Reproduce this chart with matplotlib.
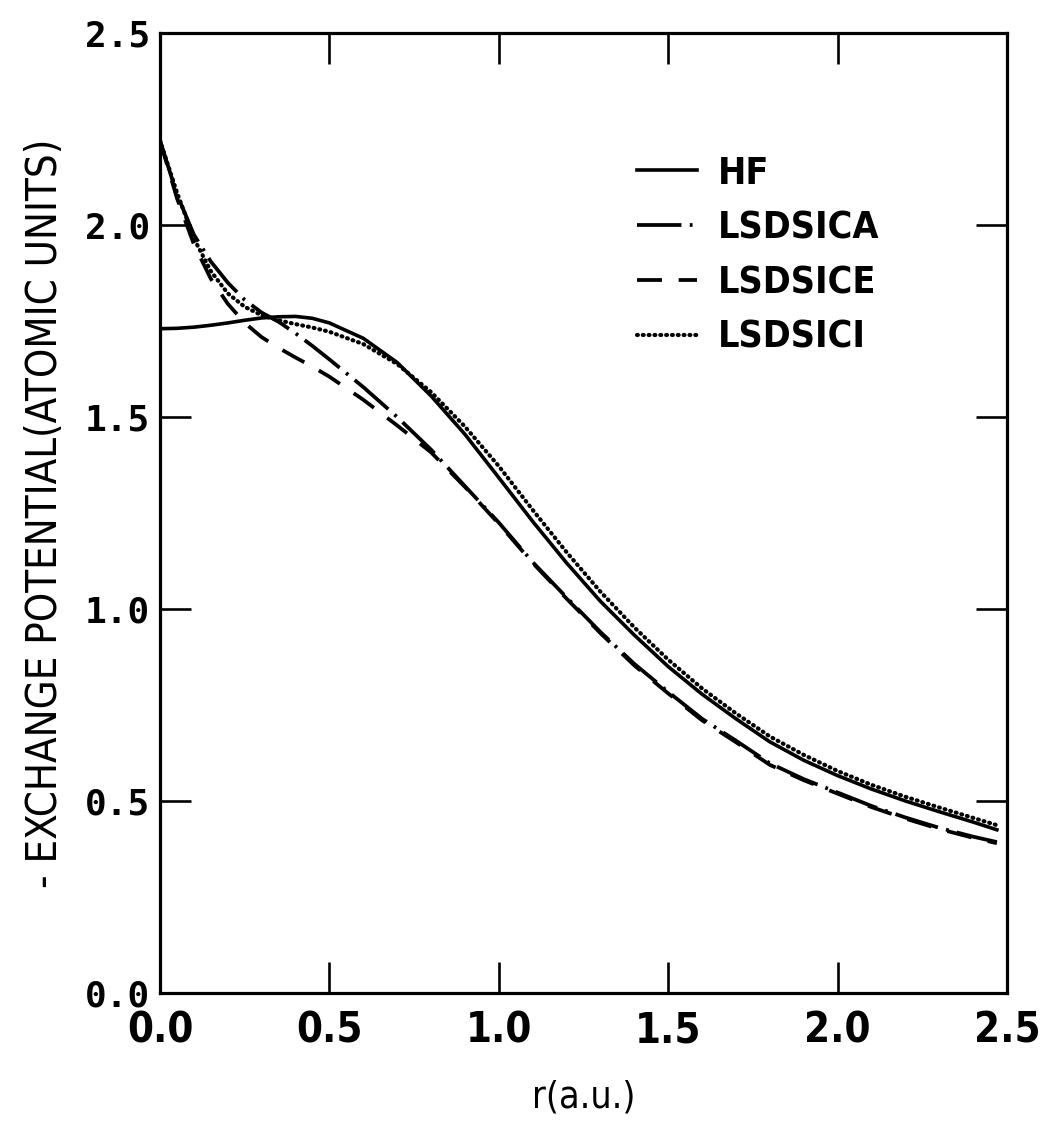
import matplotlib
matplotlib.use("Agg")
import matplotlib.pyplot as plt
from matplotlib import font_manager

# === Data ===
r = [0.0, 0.05, 0.1, 0.15, 0.2, 0.25, 0.3, 0.35, 0.4, 0.45, 0.5, 0.6, 0.7, 0.8, 0.9,
     1.0, 1.1, 1.2, 1.3, 1.4, 1.5, 1.6, 1.7, 1.8, 1.9, 2.0, 2.1, 2.2, 2.3, 2.4, 2.47]

hf = [1.730, 1.731, 1.734, 1.739, 1.745, 1.752, 1.758, 1.761, 1.762, 1.757, 1.745, 1.705,
      1.642, 1.555, 1.455, 1.342, 1.228, 1.120, 1.020, 0.932, 0.850, 0.778, 0.714,
      0.654, 0.606, 0.566, 0.531, 0.500, 0.472, 0.445, 0.425]

lsdsica = [2.220, 2.080, 1.975, 1.905, 1.850, 1.805, 1.772, 1.748, 1.718, 1.685, 1.650,
           1.578, 1.500, 1.415, 1.320, 1.225, 1.122, 1.030, 0.940, 0.857, 0.784,
           0.714, 0.657, 0.598, 0.557, 0.522, 0.487, 0.457, 0.430, 0.407, 0.393]

lsdsice = [2.220, 2.070, 1.950, 1.860, 1.795, 1.745, 1.708, 1.680, 1.655, 1.631, 1.605,
           1.545, 1.478, 1.408, 1.318, 1.222, 1.120, 1.027, 0.937, 0.853, 0.780,
           0.710, 0.653, 0.594, 0.554, 0.519, 0.484, 0.454, 0.427, 0.404, 0.390]

lsdsici = [2.220, 2.085, 1.965, 1.880, 1.822, 1.787, 1.765, 1.752, 1.742, 1.733, 1.722,
           1.690, 1.638, 1.565, 1.475, 1.372, 1.258, 1.148, 1.045, 0.952, 0.868,
           0.793, 0.728, 0.668, 0.620, 0.578, 0.542, 0.511, 0.483, 0.456, 0.437]

ticks = [0.0, 0.5, 1.0, 1.5, 2.0, 2.5]
tick_labels = ["0.0", "0.5", "1.0", "1.5", "2.0", "2.5"]

# === Style ===
plt.rcParams["lines.scale_dashes"] = False
cond_font = dict(family="DejaVu Sans", stretch="condensed")

fig = plt.figure(figsize=(10.43, 11.40), dpi=100)
ax = fig.add_axes([0.1534, 0.129, 0.8121, 0.842])

ax.plot(r, hf, color="black", lw=2.6, linestyle="-", label="HF")
ax.plot(r, lsdsica, color="black", lw=2.7, linestyle=(0, (32, 6, 2, 6)), label="LSDSICA")
ax.plot(r, lsdsice, color="black", lw=2.7, linestyle=(0, (18, 12)), label="LSDSICE")
ax.plot(r, lsdsici, color="black", lw=3.0, linestyle=(0, (0.6, 3.6)),
        dash_capstyle="round", label="LSDSICI")

ax.set_xlim(0, 2.5)
ax.set_ylim(0, 2.5)

for s in ax.spines.values():
    s.set_linewidth(2.3)

ax.set_xticks(ticks)
ax.set_yticks(ticks)
ax.set_xticklabels(tick_labels, fontweight="bold", fontsize=30, **cond_font)
ax.set_yticklabels(tick_labels, family="DejaVu Sans Mono", fontweight="bold", fontsize=26)
ax.tick_params(direction="in", length=22, width=1.9, top=True, right=True)
ax.tick_params(axis="x", pad=12)
ax.tick_params(axis="y", pad=7)

ax.set_xlabel("r(a.u.)", fontsize=27, labelpad=20, **cond_font)
ax.set_ylabel("- EXCHANGE POTENTIAL(ATOMIC UNITS)", fontsize=30, labelpad=14, **cond_font)

# === Legend ===
leg = ax.legend(loc="upper left", bbox_to_anchor=(0.545, 0.888), frameon=False,
                prop=font_manager.FontProperties(family="DejaVu Sans", stretch="condensed",
                                                 weight="bold", size=27),
                handlelength=1.62, handletextpad=0.55, labelspacing=0.5,
                borderaxespad=0)

fig.savefig("out.png", dpi=100)
